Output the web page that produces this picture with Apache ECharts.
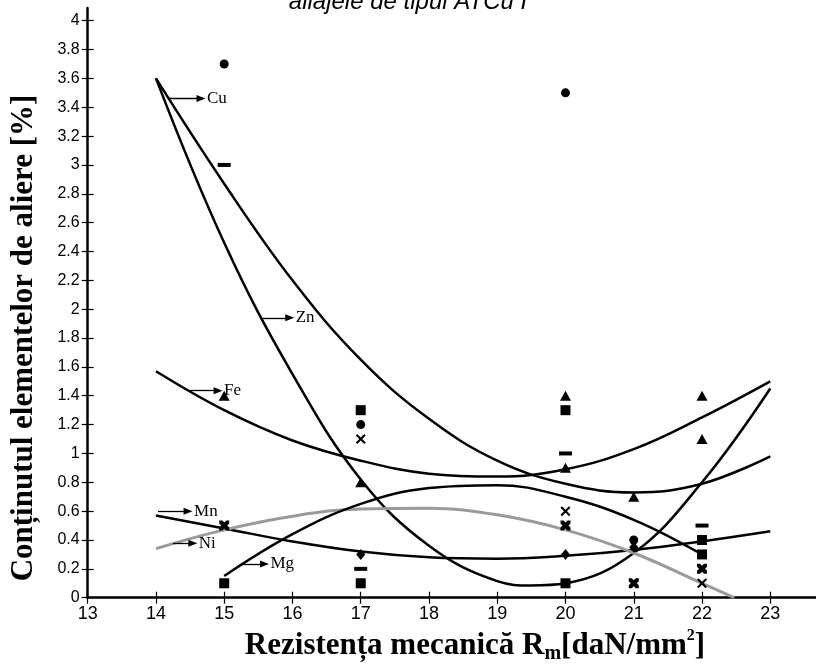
<!DOCTYPE html>
<html><head><meta charset="utf-8">
<script src="https://cdn.jsdelivr.net/npm/echarts@6/dist/echarts.min.js"></script>
<style>html,body{margin:0;padding:0;background:#fff}#c{width:816px;height:666px}</style>
</head><body><div id="c"></div>
<script>
// ---- tick labels ----
const xTicks = [13,14,15,16,17,18,19,20,21,22,23];
const yTicks = [0,0.2,0.4,0.6,0.8,1,1.2,1.4,1.6,1.8,2,2.2,2.4,2.6,2.8,3,3.2,3.4,3.6,3.8,4];

// ---- trend curves ----
const cuCurveX = [14,15,16,17,18,19,20,21,22,23];
const cuCurveY = [3.6,2.87,2.2,1.65,1.24,0.95,0.79,0.73,0.79,0.98];
const znCurveX = [14,15,16,17,18,19,19.5,20,21,22,23];
const znCurveY = [3.6,2.46,1.55,0.82,0.36,0.115,0.085,0.1,0.31,0.8,1.45];
const feCurveX = [14,15,16,17,18,19,20,21,22,23];
const feCurveY = [1.57,1.3,1.09,0.95,0.86,0.84,0.89,1.03,1.25,1.5];
const mnCurveX = [14,15,16,17,18,19,20,21,22,23];
const mnCurveY = [0.57,0.48,0.39,0.32,0.28,0.27,0.29,0.33,0.39,0.46];
const niCurveX = [14,15,16,17,18,19,20,21,22,22.47];
const niCurveY = [0.34,0.47,0.565,0.615,0.62,0.575,0.47,0.31,0.1,0];
const mgCurveX = [15,16,17,18,19,20,21,22];
const mgCurveY = [0.15,0.44,0.65,0.76,0.78,0.7,0.54,0.3];

// ---- measured points ----
const circleX = [15,17,20,21];
const circleY = [3.7,1.2,3.5,0.4];
const dashX = [15,17,20,22];
const dashY = [3.0,0.2,1.0,0.5];
const triX = [15,17,20,20,21,22,22];
const triY = [1.4,0.8,1.4,0.9,0.7,1.4,1.1];
const squareX = [15,17,17,20,20,22,22];
const squareY = [0.1,1.3,0.1,1.3,0.1,0.4,0.3];
const crossX = [17,20,21,22];
const crossY = [1.1,0.6,0.1,0.1];
const starX = [15,20,21,22];
const starY = [0.5,0.5,0.1,0.2];
const diamondX = [17,20,21];
const diamondY = [0.3,0.3,0.35];

// ---- curve labels with arrows (data coords) ----
const labelNames = ['Cu','Zn','Fe','Mn','Ni','Mg'];
const arrowFromX = [14.18,15.55,14.5,14.03,14.25,15.23];
const arrowToX   = [14.66,15.96,14.91,14.47,14.54,15.59];
const arrowY     = [3.46,1.94,1.435,0.6,0.377,0.234];

const zip = (a,b) => a.map((v,i)=>[v,b[i]]);
const chart = echarts.init(document.getElementById('c'), null, {renderer:'canvas'});

const black = '#000';
function curve(name, xs, ys, color, width){
  return {type:'line', name, data: zip(xs,ys), symbol:'none', smooth:0.4, silent:true,
    lineStyle:{color, width}, itemStyle:{color}, z:3, animation:false};
}
function pts(name, xs, ys, symbol, size, extra){
  return Object.assign({type:'scatter', name, data: zip(xs,ys), symbol, symbolSize:size,
    itemStyle:{color:black, opacity:1}, z:4, animation:false, silent:true}, extra||{});
}

const arrows = labelNames.map((n,i)=>[
  {name:n, coord:[arrowFromX[i], arrowY[i]]},
  {coord:[arrowToX[i], arrowY[i]]}
]);

const xAxisBase = {type:'value', min:13, max:23.67, position:'bottom', splitLine:{show:false}};
const yAxisBase = {type:'value', min:0, max:4.088, position:'left', splitLine:{show:false}};

chart.setOption({
  backgroundColor:'#fff',
  animation:false,
  grid:{left:87.7, right:0, top:8, bottom:68.3, containLabel:false, outerBoundsMode:'none'},
  xAxis:[
    Object.assign({}, xAxisBase, {
      axisLine:{show:true, onZero:false, lineStyle:{color:black, width:2.5}},
      axisTick:{show:true, customValues:xTicks, length:6, lineStyle:{color:black, width:1.2}},
      axisLabel:{show:true, customValues:xTicks, color:black, fontSize:18, fontFamily:'Liberation Sans', margin:7}
    }),
    Object.assign({}, xAxisBase, {
      axisLine:{show:false},
      axisTick:{show:true, inside:true, customValues:xTicks, length:6, lineStyle:{color:black, width:1.2}},
      axisLabel:{show:false}
    })
  ],
  yAxis:[
    Object.assign({}, yAxisBase, {
      axisLine:{show:true, onZero:false, lineStyle:{color:black, width:2.5}},
      axisTick:{show:true, customValues:yTicks, length:6, lineStyle:{color:black, width:1.2}},
      axisLabel:{show:true, customValues:yTicks, color:black, fontSize:16, fontFamily:'Liberation Sans', margin:8}
    }),
    Object.assign({}, yAxisBase, {
      axisLine:{show:false},
      axisTick:{show:true, inside:true, customValues:yTicks, length:6, lineStyle:{color:black, width:1.2}},
      axisLabel:{show:false}
    })
  ],
  series:[
    curve('Cu', cuCurveX, cuCurveY, black, 2.5),
    curve('Zn', znCurveX, znCurveY, black, 2.5),
    curve('Fe', feCurveX, feCurveY, black, 2.5),
    curve('Mn', mnCurveX, mnCurveY, black, 2.5),
    curve('Ni', niCurveX, niCurveY, '#9a9a9a', 3),
    Object.assign(curve('Mg', mgCurveX, mgCurveY, black, 2.5), {
      markLine:{silent:true, animation:false, symbol:['none','none'], precision:4,
        lineStyle:{color:black, width:1.3, type:'solid'},
        label:{show:true, position:'end', formatter:'{b}', distance:6, color:black,
          fontFamily:'Liberation Serif', fontSize:17},
        emphasis:{disabled:true},
        data: arrows}
    }),
    pts('arrowheads', arrowToX, arrowY, 'triangle', [7,9], {symbolRotate:-90, z:5}),
    pts('circle', circleX, circleY, 'circle', 9),
    pts('dash', dashX, dashY, 'rect', [13,4]),
    pts('triangle', triX, triY, 'triangle', [11,10]),
    pts('square', squareX, squareY, 'rect', 10),
    pts('cross', crossX, crossY, 'path://M0,1.5L1.5,0L5,3.5L8.5,0L10,1.5L6.5,5L10,8.5L8.5,10L5,6.5L1.5,10L0,8.5L3.5,5Z', 10),
    pts('star', starX, starY, 'path://M0,0L3,0L5,2L7,0L10,0L10,3L8,5L10,7L10,10L7,10L5,8L3,10L0,10L0,7L2,5L0,3Z', 10),
    pts('diamond', diamondX, diamondY, 'diamond', [9,11])
  ],
  graphic:[
    {type:'text', x:408, y:14, silent:true, style:{text:'aliajele de tipul ATCu I', fontFamily:'Liberation Sans', fontStyle:'italic', fontSize:24, fill:black, align:'center', verticalAlign:'bottom'}},
    {type:'text', x:24, y:338, rotation:Math.PI/2, silent:true, style:{text:'Conținutul elementelor de aliere [%]', fontFamily:'Liberation Serif', fontWeight:'bold', fontSize:31, fill:black, align:'center', verticalAlign:'middle'}},
    {type:'text', x:475, y:646, silent:true, style:{
      text:'Rezistența mecanică R{s|m}[daN/mm{p|2}]', fontFamily:'Liberation Serif', fontWeight:'bold', fontSize:31, lineHeight:36, fill:black, align:'center', verticalAlign:'middle',
      rich:{s:{fontFamily:'Liberation Serif', fontWeight:'bold', fontSize:20, lineHeight:20, verticalAlign:'bottom', fill:black},
            p:{fontFamily:'Liberation Serif', fontWeight:'bold', fontSize:16, lineHeight:16, verticalAlign:'top', fill:black}}}}
  ]
});
</script></body></html>
